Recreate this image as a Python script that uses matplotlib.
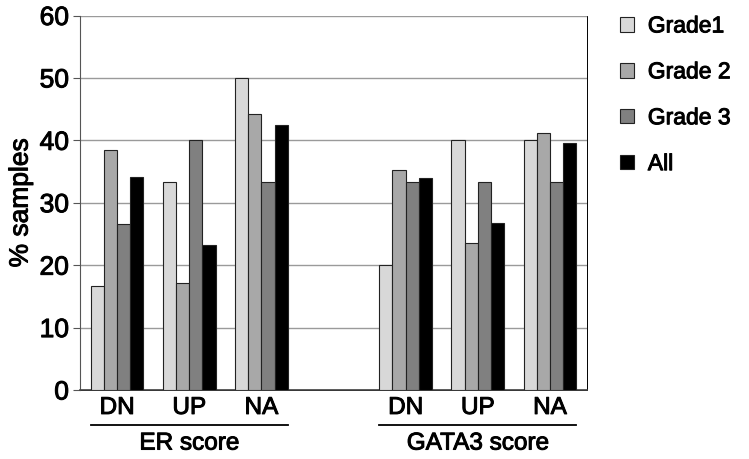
import numpy as np
import matplotlib
matplotlib.use('Agg')
from matplotlib import pyplot as plt
from matplotlib import transforms
from matplotlib import patheffects as pe

plt.rcParams['font.family'] = ['Liberation Sans', 'DejaVu Sans']
# the reference text is a slightly heavy Helvetica
plt.rcParams['path.effects'] = [pe.withStroke(linewidth=0.7, foreground='black')]

groups = ['ER score', 'GATA3 score']
categories = ['DN', 'UP', 'NA']
series = ['Grade1', 'Grade 2', 'Grade 3', 'All']
colors = ['#d8d8d8', '#a8a8a8', '#808080', '#000000']

# rows: series, columns: ER DN/UP/NA, GATA3 DN/UP/NA
grade1 = [16.7, 33.4, 50.0, 20.0, 40.0, 40.0]
grade2 = [38.4, 17.2, 44.2, 35.3, 23.5, 41.2]
grade3 = [26.6, 40.0, 33.4, 33.3, 33.3, 33.3]
all_vals = [34.2, 23.2, 42.5, 33.9, 26.8, 39.5]
values = [grade1, grade2, grade3, all_vals]

x = np.array([0, 1, 2, 4, 5, 6])
w = 0.1825

fig = plt.figure(figsize=(7.49, 4.59), dpi=100)
ax = fig.add_axes([80 / 749, 69 / 459, 507 / 749, 374.5 / 459])

for i, (name, vals) in enumerate(zip(series, values)):
    ax.bar(x + (i - 1.5) * w, vals, width=w, color=colors[i],
           edgecolor='#222222', linewidth=0.8, label=name, zorder=3,
           path_effects=[])

ax.set_xlim(-0.514, 6.514)
ax.set_ylim(0, 60)
ax.set_yticks(range(0, 61, 10))
ax.yaxis.grid(True, color='#9a9a9a', linewidth=1.0, zorder=0, path_effects=[])
ax.set_axisbelow(True)
for s in ['top', 'right']:
    ax.spines[s].set_visible(False)
for s in ['left', 'bottom']:
    ax.spines[s].set_path_effects([])
ax.spines['left'].set_color('#555555')
ax.spines['bottom'].set_color('#444444')
ax.spines['bottom'].set_linewidth(1.2)
ax.tick_params(axis='y', labelsize=19, length=5, color='#555555', pad=3)
ax.set_xticks(x)
ax.set_xticklabels(categories * 2)
ax.tick_params(axis='x', labelsize=17.5, length=0, pad=5)
ax.set_ylabel('% samples', fontsize=19, labelpad=5)
for t in ax.yaxis.get_major_ticks():
    t.tick1line.set_path_effects([])
    t.gridline.set_path_effects([])

trans = transforms.blended_transform_factory(ax.transData, ax.transAxes)
for g, start in zip(groups, [0, 4]):
    left = start - 2 * w
    right = start + 2 + 2 * w
    ax.plot([left, right], [-0.094, -0.094], transform=trans, color='black',
            linewidth=1.3, clip_on=False, path_effects=[])
    ax.text((left + right) / 2, -0.143, g, transform=trans, ha='center',
            va='center', fontsize=17.5)

leg = ax.legend(loc='upper left', bbox_to_anchor=(1.025, 1.058), frameon=False,
                fontsize=16.5, handlelength=0.6, handleheight=0.6,
                handletextpad=0.6, labelspacing=1.0)
for p in leg.get_patches():
    p.set_edgecolor('#222222')
    p.set_path_effects([])

fig.savefig('out.png', dpi=100)
